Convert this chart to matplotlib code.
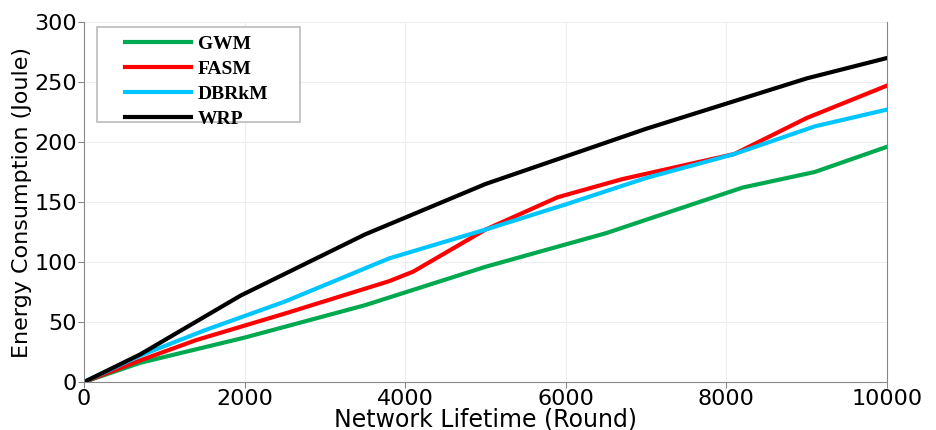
import matplotlib
matplotlib.use("Agg")
import matplotlib.pyplot as plt
from matplotlib.patches import Rectangle

# GWM
gwm_x = [0, 700, 2000, 3500, 5000, 6500, 8200, 9100, 10000]
gwm_y = [0, 16, 37, 64, 96, 124, 162, 175, 196]

# FASM
fasm_x = [0, 700, 1400, 2500, 3800, 4100, 5000, 5900, 6700, 8100, 9000, 10000]
fasm_y = [0, 18, 35, 57, 84, 92, 127, 154, 169, 190, 220, 247]

# DBRkM
dbrkm_x = [0, 700, 1500, 2500, 3800, 5000, 6000, 7000, 8100, 9100, 10000]
dbrkm_y = [0, 22, 43, 67, 103, 127, 148, 170, 190, 213, 227]

# WRP
wrp_x = [0, 700, 1950, 3500, 5000, 7000, 9000, 10000]
wrp_y = [0, 23, 72, 123, 165, 211, 253, 270]

fig = plt.figure(figsize=(9.37, 4.30), dpi=100)
ax = fig.add_axes([84 / 937, 48 / 430, 803 / 937, 360 / 430])

ax.plot(gwm_x, gwm_y, color="#00a84f", lw=3, label="GWM")
ax.plot(fasm_x, fasm_y, color="#ff0000", lw=3, label="FASM")
ax.plot(dbrkm_x, dbrkm_y, color="#00c5ff", lw=3, label="DBRkM")
ax.plot(wrp_x, wrp_y, color="#000000", lw=3, label="WRP")

ax.set_xlim(0, 10000)
ax.set_ylim(0, 300)
ax.set_xticks([0, 2000, 4000, 6000, 8000, 10000])
ax.set_yticks([0, 50, 100, 150, 200, 250, 300])
ax.tick_params(labelsize=16, color="#888888", length=4, pad=1)
ax.grid(True, color="#eeeeee", lw=0.8)
for s in ax.spines.values():
    s.set_color("#888888")
ax.spines["top"].set_visible(False)

ax.set_xlabel("Network Lifetime (Round)", fontsize=17, labelpad=-1)
ax.set_ylabel("Energy Consumption (Joule)", fontsize=16, labelpad=2)

# legend frame drawn separately (wide left/right padding like the original)
ax.add_patch(Rectangle((0.016, 0.722), 0.253, 0.264, transform=ax.transAxes,
                       facecolor="white", edgecolor="#bbbbbb", lw=1.2, zorder=4))
leg = ax.legend(loc="upper left", bbox_to_anchor=(0.051, 0.963), frameon=False,
                prop={"family": "Liberation Serif", "weight": "bold", "size": 14},
                handlelength=3.4, borderpad=0, labelspacing=0.38,
                handletextpad=0.35, borderaxespad=0)
leg.set_zorder(5)

fig.savefig("out.png", dpi=100)
